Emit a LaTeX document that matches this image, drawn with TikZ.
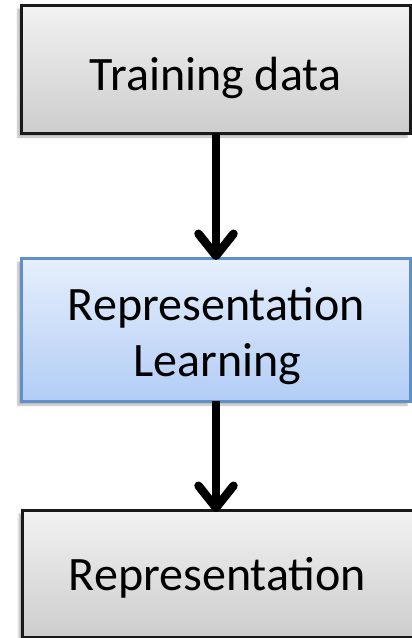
\documentclass[tikz,border=0pt]{standalone}
\usepackage{fontspec}
\setmainfont{Carlito}
\usetikzlibrary{arrows.meta,shadows.blur}
\definecolor{grayTop}{HTML}{F2F2F2}
\definecolor{grayBot}{HTML}{CDCDCD}
\definecolor{blueTop}{HTML}{E6EFFC}
\definecolor{blueBot}{HTML}{B2CDF6}
\definecolor{blueLine}{HTML}{5F90C8}
\definecolor{darkLine}{HTML}{1A1A1A}
\tikzset{
  x=1pt, y=-1pt,
  box/.style={draw, line width=3pt, rectangle,
    blur shadow={shadow xshift=-3pt, shadow yshift=-4pt, shadow blur steps=6, shadow opacity=30}},
  graybox/.style={box, draw=darkLine, top color=grayTop, bottom color=grayBot},
  bluebox/.style={box, draw=blueLine, top color=blueTop, bottom color=blueBot},
  lbl/.style={font=\fontsize{48}{58}\selectfont, anchor=base, inner sep=0pt},
  flow/.style={line width=8.5pt, black,
    -{Straight Barb[length=22pt, width=35pt, line cap=round, line join=round]}}
}
\begin{document}
\begin{tikzpicture}
  \useasboundingbox (0,0) rectangle (412,638);
  % boxes
  \path[graybox] (21,5) rectangle (410,133);
  \path[bluebox] (21,258) rectangle (410,401);
  \path[graybox] (22,510) rectangle (430,637);
  % anchor points on the box edges
  \coordinate (b1s) at (216,133);
  \coordinate (b2n) at (216,258);
  \coordinate (b2s) at (216,401);
  \coordinate (b3n) at (216,510);
  % labels
  \node[lbl] (t1) at (215.5,90) {Training data};
  \node[lbl] (t2) at (216.5,320) {Representation};
  \node[lbl] (t3) at (217.5,376) {Learning};
  \node[lbl] (t4) at (217.5,590) {Representation};
  % arrows
  \draw[flow] (b1s) -- ([yshift=-2pt]b2n);
  \draw[flow] (b2s) -- ([yshift=-2pt]b3n);
\end{tikzpicture}
\end{document}
